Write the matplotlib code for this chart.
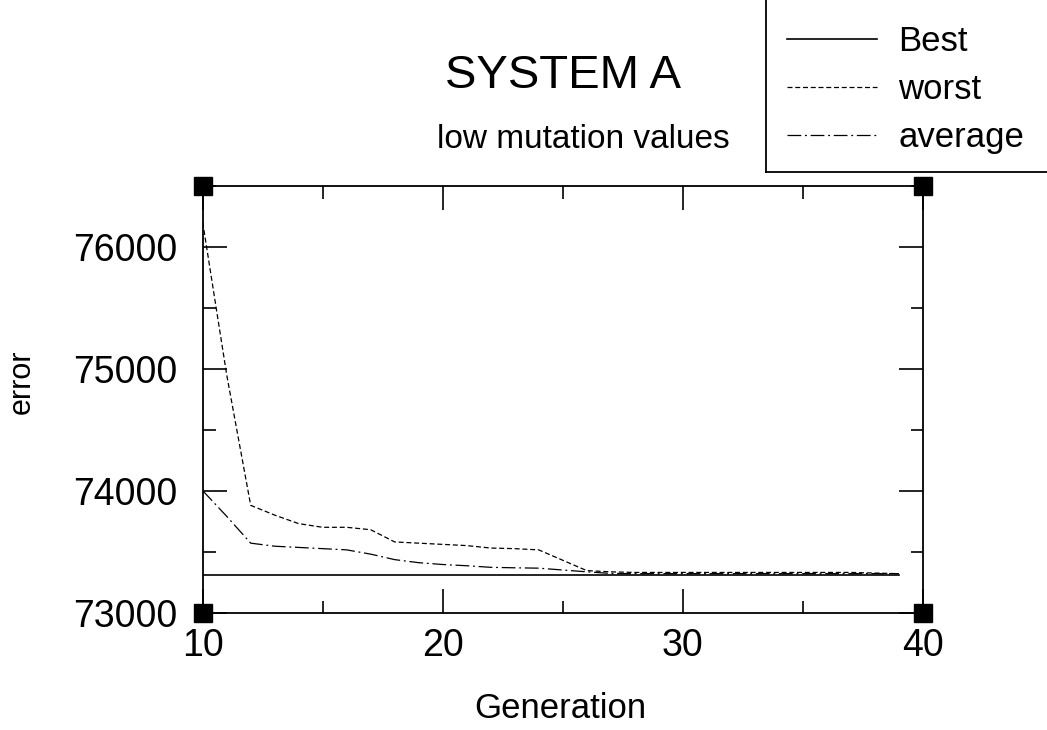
import numpy as np
import matplotlib
matplotlib.use("Agg")
import matplotlib.pyplot as plt

plt.rcParams['font.family'] = ['Liberation Sans', 'DejaVu Sans']

# data (generation 10..39)
generation = list(range(10, 40))
best = [73305] * 30
worst = [76200, 74950, 73880, 73800, 73730, 73700, 73700, 73680, 73580, 73570,
         73560, 73550, 73530, 73525, 73515, 73430, 73345, 73335, 73330, 73330,
         73330, 73330, 73330, 73330, 73330, 73330, 73330, 73330, 73325, 73320]
average = [74000, 73790, 73570, 73545, 73535, 73525, 73515, 73480, 73435, 73410,
           73395, 73385, 73372, 73368, 73365, 73350, 73335, 73322, 73320, 73320,
           73320, 73320, 73320, 73320, 73320, 73320, 73320, 73320, 73320, 73320]

xlim = (10, 40)
ylim = (73000, 76500)
xticks = [10, 20, 30, 40]
yticks = [73000, 74000, 75000, 76000]

W, H = 1047, 730
fig = plt.figure(figsize=(W / 100, H / 100), dpi=100)
ax = fig.add_axes([202.7 / W, 1 - 612.7 / H, 720 / W, 427 / H])

ax.plot(generation, best, color='black', lw=1.2, label='Best')
ax.plot(generation, worst, color='black', lw=0.9, dashes=(4, 2.2), label='worst')
ax.plot(generation, average, color='black', lw=0.9, dashes=(11, 3, 1.5, 3), label='average')

ax.set_xlim(xlim)
ax.set_ylim(ylim)
ax.set_xticks(xticks)
ax.set_yticks(yticks)
ax.set_xticks([15, 25, 35], minor=True)
ax.set_yticks([73500, 74500, 75500, 76500], minor=True)
ax.tick_params(which='both', direction='in', top=True, right=True, width=1.2, labelsize=27)
ax.tick_params(which='major', length=17.5)
ax.tick_params(which='minor', length=9)
ax.tick_params(axis='x', pad=11)
ax.tick_params(axis='y', pad=18)
for s in ax.spines.values():
    s.set_linewidth(1.3)

# black squares at the frame corners
ax.plot([xlim[0], xlim[1], xlim[0], xlim[1]], [ylim[0], ylim[0], ylim[1], ylim[1]],
        's', color='black', ms=13.5, clip_on=False, zorder=5)

fig.text(563 / W, 1 - 76 / H, 'SYSTEM A', ha='center', va='center', fontsize=34)
fig.text(583 / W, 1 - 140 / H, 'low mutation values', ha='center', va='center', fontsize=24)
fig.text(560 / W, 1 - 709 / H, 'Generation', ha='center', va='center', fontsize=25)
fig.text(22 / W, 1 - 382 / H, 'error', ha='center', va='center', rotation=90, fontsize=22)

# legend box: only left and bottom edges show, rest runs off the figure
lax = fig.add_axes([766 / W, 1 - 171.7 / H, 0.5, 0.5])
lax.set_xticks([])
lax.set_yticks([])
lax.spines['top'].set_visible(False)
lax.spines['right'].set_visible(False)
for s in ['left', 'bottom']:
    lax.spines[s].set_linewidth(1.3)
lax.patch.set_alpha(0)
h, l = ax.get_legend_handles_labels()
lax.legend(h, l, loc='upper left', bbox_to_anchor=(787 / W, 1 - 25 / H),
           bbox_transform=fig.transFigure, frameon=False, fontsize=25,
           handlelength=2.6, handletextpad=0.6, labelspacing=0.435,
           borderpad=0, borderaxespad=0)

fig.savefig('out.png', dpi=100)
